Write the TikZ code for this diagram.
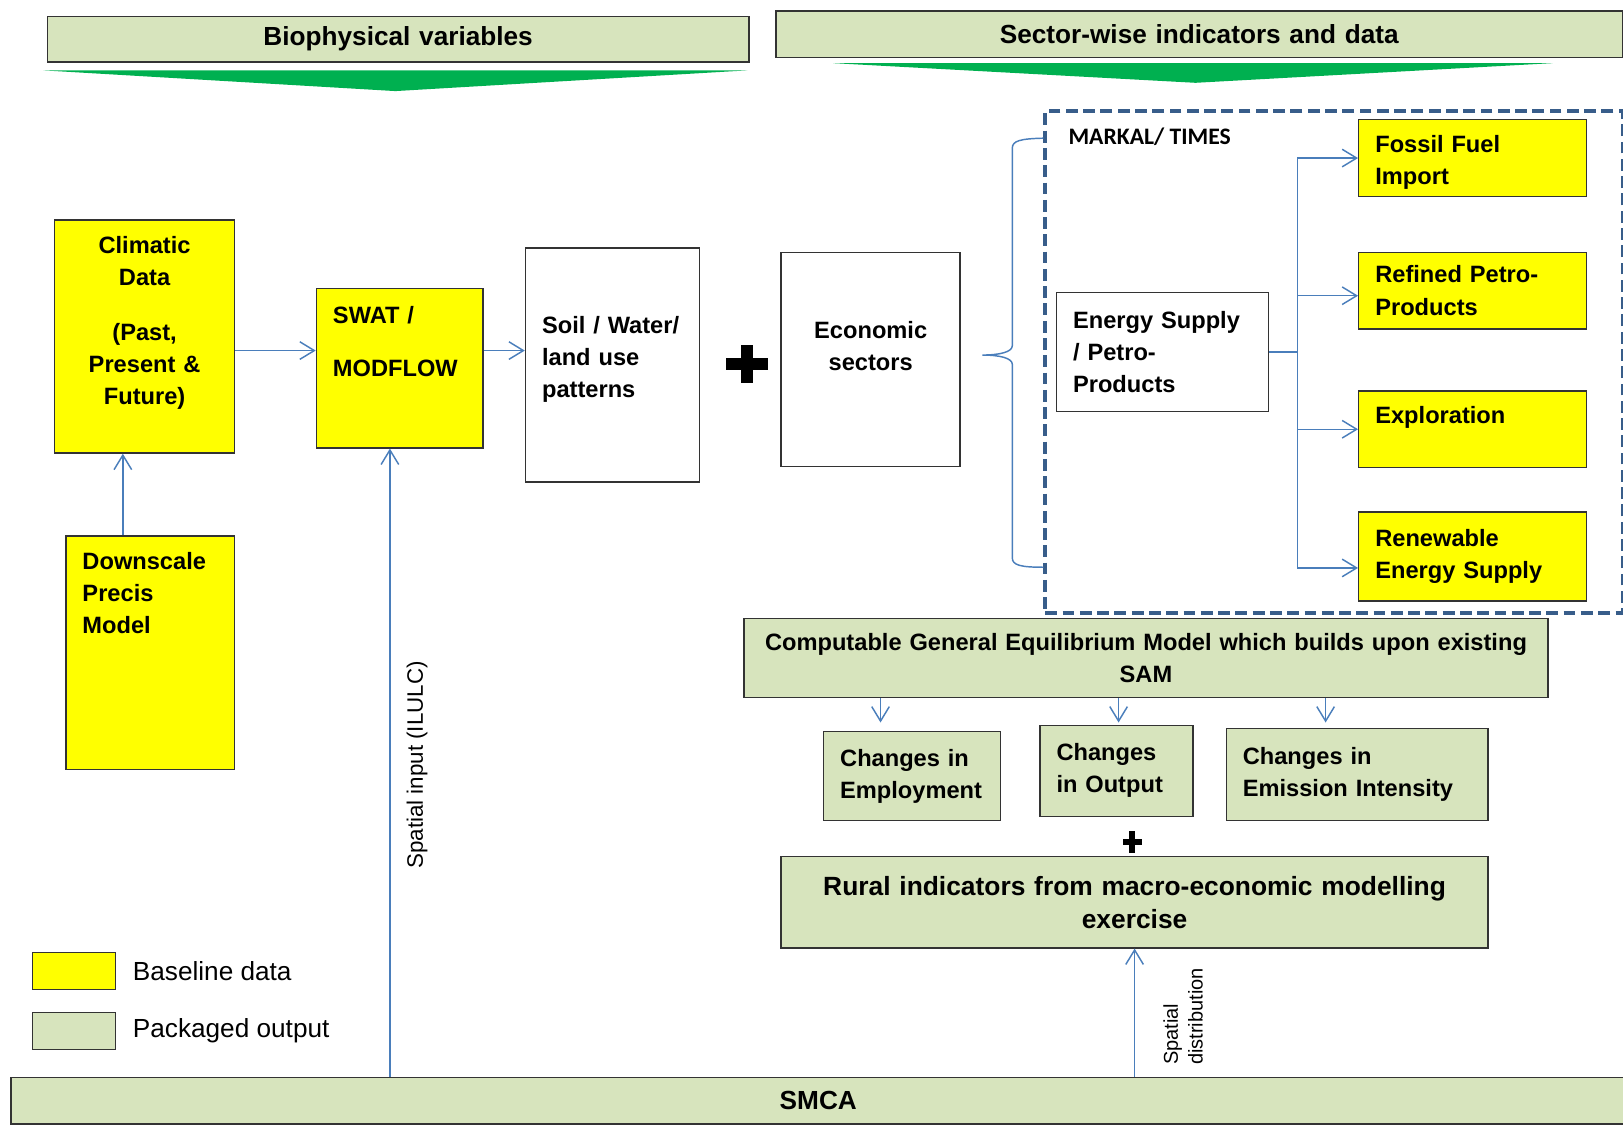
\documentclass[tikz,border=0pt]{standalone}
\usepackage{fontspec}
\setmainfont{Liberation Sans}
\newfontfamily\markalfont{Carlito}
\usepackage{xcolor}
\usepackage{tikz}
\usetikzlibrary{arrows.meta, positioning}
\newcommand{\cajafont}{\fontsize{13}{17.6}\selectfont\bfseries}
\newcommand{\titulofont}{\fontsize{14.4}{18}\selectfont\bfseries}
\newcommand{\ruralfont}{\fontsize{14.5}{18.2}\selectfont\bfseries}
\newcommand{\leyendafont}{\fontsize{14.4}{17}\selectfont}
\newcommand{\ladofont}{\fontsize{12.3}{14}\selectfont}
\newcommand{\distfont}{\fontsize{11}{13.7}\selectfont}
\definecolor{amarillito}{RGB}{255,255,0}
\definecolor{olivito}{RGB}{215,228,189}
\definecolor{celestito}{RGB}{74,126,187}
\definecolor{marinito}{RGB}{56,93,138}
\definecolor{pastito}{RGB}{0,176,80}
\tikzset{>={Straight Barb[length=2.8mm,width=3.4mm]}}

\begin{document}
\begin{tikzpicture}[x=0.02cm, y=-0.02cm, every node/.style={font=\cajafont},
    box/.style={draw=black!80, line width=0.8pt, anchor=north west, inner xsep=0.32cm, inner ysep=0pt, align=left},
    ybox/.style={box, fill=amarillito},
    gbox/.style={box, fill=olivito, align=center},
    wbox/.style={box, fill=white},
    flow/.style={->, draw=celestito, line width=0.8pt}]
        \useasboundingbox (0,0) rectangle (1568,1086);

        % headers and their wedges
        \node[gbox, text width=12.92cm, minimum height=0.88cm, font=\titulofont] (bio) at (45,15) {Biophysical variables};
        \node[gbox, text width=15.72cm, minimum height=0.9cm, font=\titulofont] (sector) at (749,10) {Sector-wise indicators and data};
        \fill[pastito] (42,68) -- (722,68) -- (382,88) -- cycle;
        \fill[pastito] (805,61) -- (1500,61) -- (1155,80) -- cycle;

        % MARKAL/TIMES frame
        \node[draw=marinito, line width=2.2pt, dash pattern=on 6.5pt off 3pt, anchor=north west, minimum width=11.16cm, minimum height=9.69cm, inner sep=0pt] (markalbox) at (1008,105.5) {};
        \node[anchor=west, inner sep=0pt, font=\fontsize{13}{16}\selectfont\markalfont\bfseries] (markal) at (1032,132) {MARKAL/ TIMES};
        \draw[celestito, line width=0.8pt] (1008,133.5) .. controls (986,134) and (978,136) .. (978,143)
          -- (978,334) .. controls (978,340) and (966,343) .. (949,343)
          .. controls (966,343) and (978,346) .. (978,352)
          -- (978,539) .. controls (978,546) and (986,548) .. (1008,548);

        % biophysical chain
        \node[ybox, align=center, text width=2.84cm, minimum height=4.5cm, text depth=3.54cm] (clim) at (52,212) {Climatic\\Data\\[0.44cm](Past,\\Present \&\\Future)};
        \node[ybox, text width=2.62cm, minimum height=4.52cm, text depth=3.56cm] (down) at (63,517) {Downscale\\Precis\\Model};
        \node[ybox, text width=2.58cm, minimum height=3.08cm, text depth=2.04cm] (swat) at (305,278) {SWAT /\\[0.4cm]MODFLOW};
        \node[wbox, text width=2.72cm, minimum height=4.52cm, text depth=1.56cm] (soil) at (507,239) {Soil / Water/\\land use\\patterns};
        \node[wbox, align=center, text width=2.82cm, minimum height=4.14cm, text depth=1.14cm] (econ) at (754,243) {Economic\\sectors};

        % energy tree
        \node[wbox, text width=3.46cm, minimum height=2.3cm] (energy) at (1020,282) {Energy Supply\\/ Petro-\\Products};
        \node[ybox, text width=3.76cm, minimum height=1.48cm, text depth=0.56cm] (fossil) at (1312,115) {Fossil Fuel\\Import};
        \node[ybox, text width=3.76cm, minimum height=1.48cm] (refined) at (1312,243) {Refined Petro-\\Products};
        \node[ybox, text width=3.76cm, minimum height=1.48cm, text depth=0.56cm] (explor) at (1312,377) {Exploration};
        \node[ybox, text width=3.76cm, minimum height=1.72cm] (renew) at (1312,494) {Renewable\\Energy Supply};

        % CGE and outputs
        \node[gbox, text width=14.9cm, minimum height=1.52cm] (cge) at (718,597) {Computable General Equilibrium Model which builds upon existing\\SAM};
        \node[gbox, align=left, text width=2.78cm, minimum height=1.72cm] (emp) at (795,706) {Changes in\\Employment};
        \node[gbox, align=left, text width=2.32cm, minimum height=1.76cm] (out) at (1004,700) {Changes\\in Output};
        \node[gbox, align=left, text width=4.42cm, minimum height=1.78cm] (emis) at (1184,703) {Changes in\\Emission Intensity};
        \node[gbox, text width=13.02cm, minimum height=1.76cm, font=\ruralfont] (rural) at (754,827) {Rural indicators from macro-economic modelling\\exercise};
        \node[gbox, text width=30.56cm, minimum height=0.9cm, font=\titulofont] (smca) at (10,1040) {SMCA};

        % plus signs
        \fill (701,345.7) rectangle (742,357.3);
        \fill (715.7,333) rectangle (727.3,370);
        \fill (1085,810.6) rectangle (1103,816.4);
        \fill (1091.1,803) rectangle (1096.9,824);

        % legend
        \node[box, fill=amarillito, line width=0.6pt, minimum width=1.6cm, minimum height=0.7cm] (legy) at (31,920) {};
        \node[box, fill=olivito, line width=0.6pt, minimum width=1.6cm, minimum height=0.7cm] (legg) at (31,978) {};
        \node[right=0.32cm of legy, inner sep=0pt, font=\leyendafont] (legytxt) {Baseline data};
        \node[right=0.32cm of legg, inner sep=0pt, font=\leyendafont] (leggtxt) {Packaged output};

        % connectors
        \coordinate (dn) at ([xshift=-0.53cm]down.north);
        \draw[flow] (dn) -- (dn |- clim.south);
        \coordinate (lvl) at ([yshift=-0.27cm]clim.east);
        \draw[flow] (lvl) -- (lvl -| swat.west);
        \draw[flow] (lvl -| swat.east) -- (lvl -| soil.west);
        \foreach \t/\s in {fossil/0, refined/-0.1, explor/0, renew/-0.22}
          \draw[flow] (energy.east) -- ++(27,0) |- ([yshift=\s cm]\t.west);
        \coordinate (c1) at ([xshift=-0.61cm]emp.north);
        \coordinate (c2) at ([xshift=0.04cm]out.north);
        \coordinate (c3) at ([xshift=-0.61cm]emis.north);
        \draw[flow, shorten >=0.16cm] (c1 |- cge.south) -- (c1);
        \draw[flow, shorten >=0.04cm] (c2 |- cge.south) -- (c2);
        \draw[flow, shorten >=0.1cm] (c3 |- cge.south) -- (c3);
        \coordinate (sp) at ([xshift=-0.19cm]swat.south);
        \draw[flow] (sp |- smca.north) -- (sp);
        \node[rotate=90, font=\ladofont] (spin) at (403,739) {Spatial input (ILULC)};
        \draw[flow] (smca.north -| rural.south) -- (rural.south);
        \node[rotate=90, align=left, font=\distfont] (spdist) at (1143,982) {Spatial\\distribution};
\end{tikzpicture}
\end{document}
